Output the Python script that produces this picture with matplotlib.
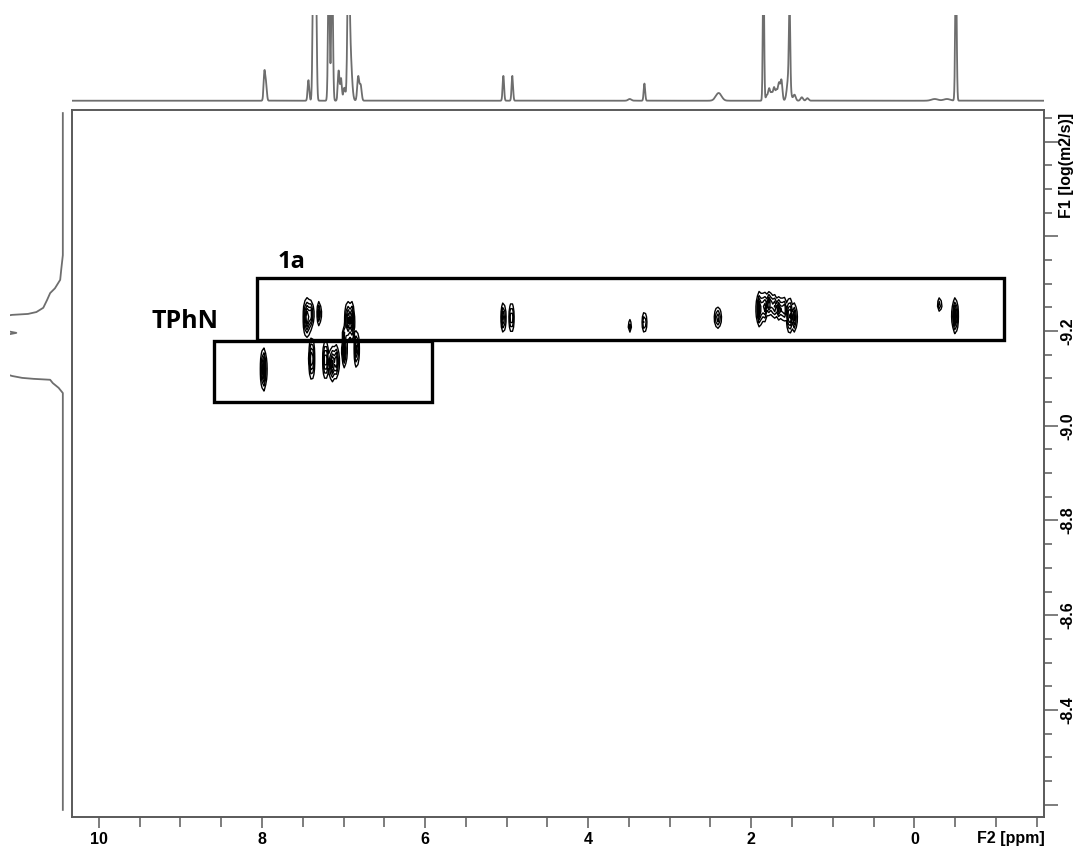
import matplotlib.pyplot as plt
import numpy as np
from matplotlib.patches import Rectangle
from matplotlib.ticker import MultipleLocator, FixedLocator

# plot window: F2 chemical shift (ppm) and F1 log diffusion coefficient
f2_lim = (10.33, -1.59)
f1_lim = (-8.174, -9.6665)

# 1H spectrum on top: peak shift, relative height, width (ppm)
h1_shift = [7.97, 7.95, 7.43, 7.37, 7.34, 7.18, 7.14, 7.06, 7.03, 6.99, 6.94, 6.92,
            6.82, 6.79, 5.04, 4.93, 3.49, 3.31, 2.40, 1.85, 1.81, 1.78, 1.75, 1.72,
            1.69, 1.66, 1.63, 1.53, 1.54, 1.47, 1.38, 1.31, -0.25, -0.40, -0.51]
h1_height = [0.33, 0.18, 0.24, 1.6, 1.6, 1.6, 1.6, 0.35, 0.26, 0.15, 1.6, 0.6,
             0.28, 0.18, 0.29, 0.29, 0.02, 0.20, 0.09, 1.6, 0.06, 0.14, 0.09, 0.15,
             0.12, 0.20, 0.24, 0.90, 0.30, 0.07, 0.04, 0.03, 0.02, 0.02, 1.6]
h1_width = [0.010, 0.010, 0.010, 0.010, 0.010, 0.010, 0.010, 0.010, 0.010, 0.012, 0.012, 0.020,
            0.012, 0.012, 0.009, 0.009, 0.020, 0.009, 0.035, 0.008, 0.012, 0.012, 0.012, 0.012,
            0.012, 0.012, 0.012, 0.008, 0.020, 0.015, 0.015, 0.015, 0.040, 0.040, 0.009]

# F1 projection on the left: log D and intensity
proj_logd = [-9.660, -9.360, -9.350, -9.330, -9.308, -9.290, -9.280, -9.265, -9.249,
             -9.240, -9.236, -9.234, -9.225, -9.205, -9.196, -9.187, -9.160, -9.120,
             -9.105, -9.101, -9.099, -9.097, -9.090, -9.080, -9.069, -8.189]
proj_int = [0, 0, 0.01, 0.03, 0.05, 0.15, 0.24, 0.30, 0.37,
            0.50, 0.66, 0.96, 1.5, 1.3, 0.88, 1.3, 1.6, 1.4,
            0.96, 0.77, 0.56, 0.24, 0.19, 0.08, 0, 0]

# DOSY cross peaks: shift, log D, width in shift, width in log D, amplitude
cp_shift = [7.45, 7.40, 7.30, 6.95, 6.90, 6.99, 5.04, 4.94, 3.49, 3.31, 2.41,
            1.90, 1.84, 1.78, 1.72, 1.66, 1.60, 1.53, 1.47, -0.31, -0.50,
            7.98, 7.39, 7.22, 7.14, 7.09, 6.99, 6.84]
cp_logd = [-9.228, -9.235, -9.237, -9.222, -9.222, -9.195, -9.228, -9.228, -9.210, -9.218, -9.228,
           -9.246, -9.250, -9.258, -9.252, -9.248, -9.246, -9.232, -9.228, -9.255, -9.232,
           -9.119, -9.141, -9.139, -9.130, -9.135, -9.158, -9.162]
cp_wshift = [0.022, 0.018, 0.014, 0.016, 0.016, 0.014, 0.014, 0.014, 0.012, 0.014, 0.024,
             0.018, 0.018, 0.018, 0.018, 0.018, 0.018, 0.018, 0.016, 0.014, 0.018,
             0.018, 0.018, 0.018, 0.018, 0.018, 0.015, 0.015]
cp_wlogd = [0.020, 0.015, 0.014, 0.020, 0.020, 0.008, 0.016, 0.016, 0.008, 0.012, 0.012,
            0.018, 0.016, 0.012, 0.013, 0.012, 0.013, 0.018, 0.016, 0.008, 0.018,
            0.022, 0.022, 0.020, 0.018, 0.018, 0.018, 0.020]
cp_amp = [1.0, 0.7, 0.6, 0.9, 0.9, 0.4, 0.8, 0.8, 0.4, 0.6, 0.6,
          1.0, 0.8, 0.9, 0.7, 0.8, 0.7, 1.0, 0.7, 0.5, 1.0,
          1.0, 0.9, 0.9, 0.9, 0.8, 0.8, 0.8]

# species boxes
box_names = ['1a', 'TPhN']
box_f2 = [(8.06, -1.10), (8.585, 5.92)]
box_f1 = [(-9.311, -9.181), (-9.179, -9.051)]
label_pos = [(7.64, -9.346), (8.95, -9.219)]

W, H = 1081, 852
fig = plt.figure(figsize=(W / 100, H / 100), dpi=100)

def px_box(x0, y0, x1, y1):
    return [x0 / W, 1 - y1 / H, (x1 - x0) / W, (y1 - y0) / H]

gray = '#5a5a5a'
tfont = dict(family='Liberation Sans', weight='bold', size=11.5)

# main 2D panel; a coarse grid keeps the contours blocky like processed data
ax = fig.add_axes(px_box(72, 110, 1044, 817))
gx = np.arange(-1.6, 10.35, 0.024)
gy = np.arange(-9.67, -8.17, 0.011)
X, Y = np.meshgrid(gx, gy)
Z = np.zeros_like(X)
for s, d, ws, wd, a in zip(cp_shift, cp_logd, cp_wshift, cp_wlogd, cp_amp):
    Z += a * np.exp(-0.5 * ((X - s) / ws) ** 2 - 0.5 * ((Y - d) / wd) ** 2)
ax.contour(X, Y, Z, levels=[0.12, 0.28, 0.45, 0.62, 0.8], colors='k', linewidths=1.0)

for (xa, xb), (ya, yb) in zip(box_f2, box_f1):
    ax.add_patch(Rectangle((xb, ya), xa - xb, yb - ya, fill=False,
                           edgecolor='k', linewidth=2.4, zorder=5))
for name, (lx, ly), fs in zip(box_names, label_pos, [17, 18]):
    ax.text(lx, ly, name, ha='center', va='center', fontsize=fs,
            fontweight='bold', family='Open Sans')

ax.set_xlim(*f2_lim)
ax.set_ylim(*f1_lim)
for sp in ax.spines.values():
    sp.set_color(gray)
    sp.set_linewidth(1.4)

ax.xaxis.set_major_locator(MultipleLocator(2))
ax.xaxis.set_minor_locator(MultipleLocator(0.5))
ax.tick_params(axis='x', which='both', direction='out', color=gray, width=1.1)
ax.tick_params(axis='x', which='major', length=8, pad=3)
ax.tick_params(axis='x', which='minor', length=7)
ax.set_xticks([10, 8, 6, 4, 2, 0])
ax.set_xticklabels(['10', '8', '6', '4', '2', '0'], **tfont)

ax.yaxis.tick_right()
ax.yaxis.set_major_locator(FixedLocator([-9.6, -9.4, -9.2, -9.0, -8.8, -8.6, -8.4, -8.2]))
ax.yaxis.set_minor_locator(MultipleLocator(0.05))
ax.set_yticklabels(['', '', '-9.2', '-9.0', '-8.8', '-8.6', '-8.4', ''], rotation=90,
                   va='center', **tfont)
ax.tick_params(axis='y', which='both', direction='out', color=gray, width=1.1)
ax.tick_params(axis='y', which='major', length=10, pad=2)
ax.tick_params(axis='y', which='minor', length=6)

fig.text(1045 / W, 1 - 838 / H, 'F2 [ppm]', ha='right', va='center', **tfont)
fig.text(1067 / W, 1 - 113 / H, 'F1 [log(m2/s)]', ha='center', va='top', rotation=90, **tfont)

# 1D trace above
axt = fig.add_axes(px_box(72, 15, 1044, 105))
xs = np.linspace(f2_lim[1], f2_lim[0], 6000)
spec = np.zeros_like(xs)
for s, h, w in zip(h1_shift, h1_height, h1_width):
    spec += h * np.exp(-0.5 * ((xs - s) / w) ** 2)
axt.plot(xs, spec, color='#6e6e6e', lw=1.3)
axt.set_xlim(*f2_lim)
axt.set_ylim(-0.05, 1.0)
axt.axis('off')

# projection on the left
axl = fig.add_axes(px_box(10, 110, 66, 817))
axl.plot(proj_int, proj_logd, color='#6e6e6e', lw=1.3)
axl.set_xlim(1.0, -0.06)
axl.set_ylim(*f1_lim)
axl.axis('off')

fig.savefig('out.png', dpi=100)
